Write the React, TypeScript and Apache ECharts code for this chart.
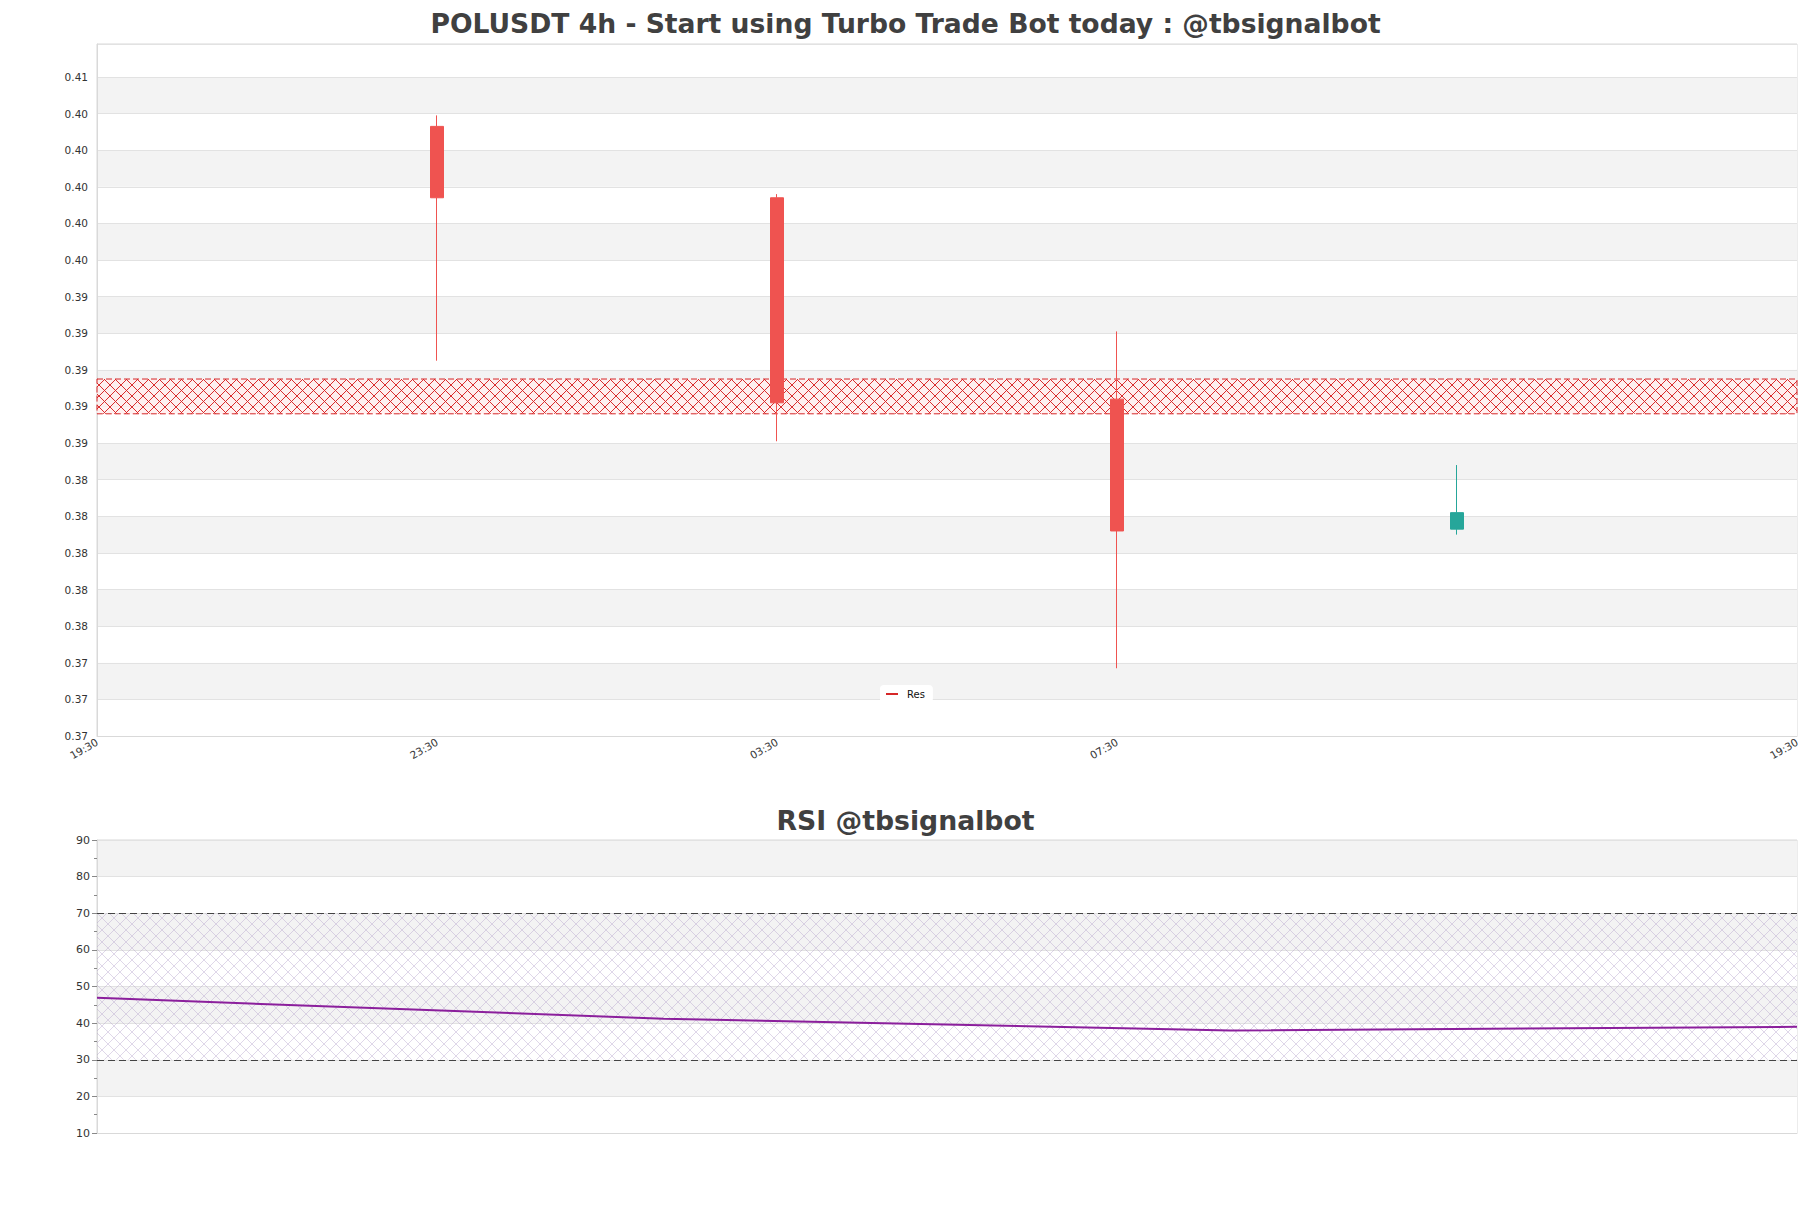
import React, { useEffect, useRef } from 'react';
import * as echarts from 'echarts';

const titleMain = 'POLUSDT 4h - Start using Turbo Trade Bot today : @tbsignalbot';
const titleRsi = 'RSI @tbsignalbot';

// hours after the 19:30 start of the axis
const candleHours = [4, 8, 12, 16];
const candleOpen = [0.4033, 0.3994, 0.3884, 0.3813];
const candleClose = [0.3994, 0.3882, 0.3812, 0.3822];
const candleLow = [0.3905, 0.3861, 0.3737, 0.381];
const candleHigh = [0.4039, 0.3996, 0.3921, 0.3848];

const resLow = 0.3876;
const resHigh = 0.3895;

const xTickHours = [0, 4, 8, 12, 20];
const xTickLabels = ['19:30', '23:30', '03:30', '07:30', '19:30'];

const rsiIndex = [0, 1, 2, 3];
const rsiValues = [46.9, 41.2, 38.0, 39.0];
const rsiUpper = 70;
const rsiLower = 30;

function hatch(size: number, lineColor: string, lineWidth: number, bg?: string) {
  const c = document.createElement('canvas');
  c.width = size;
  c.height = size;
  const ctx = c.getContext('2d') as CanvasRenderingContext2D;
  if (bg) {
    ctx.fillStyle = bg;
    ctx.fillRect(0, 0, size, size);
  }
  ctx.strokeStyle = lineColor;
  ctx.lineWidth = lineWidth;
  ctx.beginPath();
  ctx.moveTo(0, 0);
  ctx.lineTo(size, size);
  ctx.moveTo(size, 0);
  ctx.lineTo(0, size);
  ctx.stroke();
  return { image: c.toDataURL(), repeat: 'repeat', imageWidth: size, imageHeight: size };
}

export default function App() {
  const ref = useRef<HTMLDivElement>(null);
  useEffect(() => {
    if (!ref.current) return;
    const chart = echarts.init(ref.current, null, { renderer: 'svg' });
    const font = 'DejaVu Sans';
    const resPattern = hatch(11, 'rgba(215,35,35,0.95)', 1, 'rgba(255,238,238,0.8)');
    const rsiPattern = hatch(12, 'rgba(175,155,200,0.4)', 1);
    const option: any = {
      animation: false,
      textStyle: { fontFamily: font },
      title: [
        {
          text: titleMain,
          left: 'center',
          top: 5,
          textStyle: { fontSize: 26.6, fontWeight: 'bold', color: '#404040', fontFamily: font },
        },
        {
          text: titleRsi,
          left: 'center',
          top: 802,
          textStyle: { fontSize: 26.7, fontWeight: 'bold', color: '#404040', fontFamily: font },
        },
      ],
      legend: {
        data: [{ name: 'Res', icon: 'rect' }],
        left: 880,
        top: 685,
        itemWidth: 12,
        itemHeight: 2,
        backgroundColor: '#ffffff',
        borderRadius: 4,
        padding: [4, 8, 4, 6],
        textStyle: { fontSize: 10, color: '#111', fontFamily: font, padding: [0, 0, 0, 4] },
      },
      grid: [
        { left: 97, right: 14, top: 44, height: 692, show: true, borderColor: '#d9d9d9', borderWidth: 1 },
        { left: 97, right: 14, top: 840, height: 293, show: true, borderColor: '#d9d9d9', borderWidth: 1 },
      ],
      xAxis: [
        {
          type: 'value',
          gridIndex: 0,
          min: 0,
          max: 20,
          interval: 4,
          axisLine: { show: true, lineStyle: { color: '#d9d9d9' } },
          axisTick: { show: false },
          splitLine: { show: false },
          axisLabel: {
            rotate: 30,
            fontSize: 10.5,
            color: '#333',
            margin: 5,
            fontFamily: font,
            formatter: (v: number) => {
              const i = xTickHours.indexOf(v);
              return i >= 0 ? xTickLabels[i] : '';
            },
          },
        },
        {
          type: 'value',
          gridIndex: 1,
          min: 0,
          max: 3,
          axisLine: { show: true, lineStyle: { color: '#d9d9d9' } },
          axisTick: { show: false },
          axisLabel: { show: false },
          splitLine: { show: false },
        },
      ],
      yAxis: [
        {
          type: 'value',
          gridIndex: 0,
          min: 0.37,
          max: 0.4078,
          interval: 0.002,
          axisLine: { show: true, lineStyle: { color: '#d9d9d9' } },
          axisTick: { show: false },
          axisLabel: {
            fontSize: 10.5,
            color: '#333',
            margin: 9,
            fontFamily: font,
            showMaxLabel: false,
            formatter: (v: number) => v.toFixed(2),
          },
          splitLine: { show: true, lineStyle: { color: '#e2e2e2' } },
          splitArea: { show: true, areaStyle: { color: ['#ffffff', '#f3f3f3'] } },
        },
        {
          type: 'value',
          gridIndex: 1,
          min: 10,
          max: 90,
          interval: 10,
          axisLine: { show: true, lineStyle: { color: '#d9d9d9' } },
          axisTick: { show: true, length: 5, lineStyle: { color: '#888' } },
          minorTick: { show: true, splitNumber: 2, length: 3, lineStyle: { color: '#888' } },
          axisLabel: { fontSize: 11, color: '#333', margin: 7, fontFamily: font },
          splitLine: { show: true, lineStyle: { color: '#e2e2e2' } },
          splitArea: { show: true, areaStyle: { color: ['#ffffff', '#f3f3f3'] } },
        },
      ],
      series: [
        {
          name: 'Res',
          type: 'line',
          xAxisIndex: 0,
          yAxisIndex: 0,
          data: [],
          symbol: 'none',
          z: 1,
          lineStyle: { color: '#d62728' },
          itemStyle: { color: '#d62728' },
          markArea: {
            silent: true,
            itemStyle: {
              color: resPattern,
              borderColor: '#d62728',
              borderWidth: 1,
              borderType: [6, 3],
            },
            data: [[{ coord: [0, resHigh] }, { coord: [20, resLow] }]],
          },
        },
        {
          name: 'POLUSDT',
          type: 'candlestick',
          xAxisIndex: 0,
          yAxisIndex: 0,
          z: 5,
          barWidth: 13,
          encode: { x: 0, y: [1, 2, 3, 4] },
          data: candleHours.map((h, i) => [h, candleOpen[i], candleClose[i], candleLow[i], candleHigh[i]]),
          itemStyle: {
            color: '#26a69a',
            color0: '#ef5350',
            borderColor: '#26a69a',
            borderColor0: '#ef5350',
            borderWidth: 1,
          },
        },
        {
          name: 'RSI',
          type: 'line',
          xAxisIndex: 1,
          yAxisIndex: 1,
          z: 5,
          symbol: 'none',
          data: rsiIndex.map((x, i) => [x, rsiValues[i]]),
          lineStyle: { color: '#8b1f9c', width: 2 },
          itemStyle: { color: '#8b1f9c' },
          markArea: {
            silent: true,
            itemStyle: { color: rsiPattern },
            data: [[{ yAxis: rsiUpper }, { yAxis: rsiLower }]],
          },
          markLine: {
            silent: true,
            symbol: 'none',
            label: { show: false },
            lineStyle: { color: '#444', type: [7, 4], width: 1.2 },
            data: [{ yAxis: rsiUpper }, { yAxis: rsiLower }],
          },
        },
      ],
    };
    chart.setOption(option);
    return () => chart.dispose();
  }, []);
  return (
    <div
      ref={ref}
      style={{ position: 'absolute', left: 0, top: 0, width: 1811, height: 1208, background: '#fff' }}
    />
  );
}
